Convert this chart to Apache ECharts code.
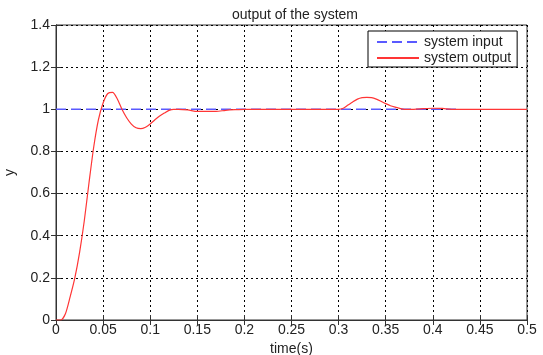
<!DOCTYPE html>
<html>
<head>
<meta charset="utf-8">
<script src="https://cdn.jsdelivr.net/npm/echarts@6/dist/echarts.min.js"></script>
<style>
  html, body { margin: 0; padding: 0; background: #fff; }
  #chart { width: 543px; height: 355px; }
</style>
</head>
<body>
<div id="chart"></div>
<script>
// 时间轴 (s)
var tOut = [0, 0.005, 0.01, 0.015, 0.02, 0.025, 0.03, 0.035, 0.04, 0.045, 0.05, 0.055, 0.06, 0.065, 0.07, 0.075, 0.08, 0.085, 0.09, 0.095, 0.1, 0.105, 0.11, 0.115, 0.12, 0.125, 0.13, 0.14, 0.15, 0.16, 0.17, 0.18, 0.19, 0.2, 0.22, 0.25, 0.28, 0.3, 0.305, 0.31, 0.315, 0.32, 0.325, 0.33, 0.335, 0.34, 0.345, 0.35, 0.355, 0.36, 0.365, 0.37, 0.38, 0.39, 0.4, 0.41, 0.42, 0.43, 0.45, 0.5];
// 系统输出
var yOut = [0, 0.0, 0.03, 0.11, 0.2, 0.32, 0.47, 0.65, 0.82, 0.95, 1.03, 1.075, 1.08, 1.05, 1.0, 0.96, 0.93, 0.912, 0.908, 0.915, 0.93, 0.95, 0.968, 0.982, 0.995, 1.0, 1.0, 0.997, 0.99, 0.99, 0.99, 0.995, 0.998, 1.0, 1.0, 1.0, 1.0, 1.0, 1.005, 1.02, 1.035, 1.048, 1.055, 1.057, 1.055, 1.048, 1.038, 1.027, 1.017, 1.01, 1.004, 1.0, 1.0, 1.003, 1.005, 1.004, 1.0, 1.0, 1.0, 1.0];
// 系统输入（阶跃）
var tIn = [0, 0.43];
var yIn = [1, 1];

var font = "Liberation Sans, Arial, sans-serif";
var txt = "#222";

function pairs(xs, ys) {
  return xs.map(function (x, i) { return [x, ys[i]]; });
}

var gridLine = { show: true, lineStyle: { color: "#000", type: [2, 3], width: 1 } };

var option = {
  backgroundColor: "#fff",
  animation: false,
  title: {
    text: "output of the system",
    left: 290,
    top: 3,
    textAlign: "center",
    textStyle: { color: txt, fontSize: 14, fontWeight: "normal", fontFamily: font }
  },
  grid: {
    left: 56, right: 16, top: 25, bottom: 35,
    outerBoundsMode: "none",
    show: true, borderColor: "#333", borderWidth: 1
  },
  legend: {
    orient: "vertical",
    left: 368,
    top: 31,
    padding: [4, 6, 2, 8],
    itemGap: 2,
    itemWidth: 42,
    itemHeight: 14,
    backgroundColor: "#fff",
    borderColor: "#000",
    borderWidth: 1,
    itemStyle: { opacity: 0 },
    textStyle: { color: txt, fontSize: 14, fontFamily: font },
    data: ["system input", "system output"]
  },
  xAxis: [
    {
      type: "value",
      min: 0,
      max: 0.5,
      interval: 0.05,
      name: "time(s)",
      nameLocation: "middle",
      nameGap: 17,
      nameTextStyle: { color: txt, fontSize: 14, fontFamily: font },
      axisLine: { show: true, onZero: false, lineStyle: { color: "#333" } },
      axisTick: { show: true, inside: true, length: 5, lineStyle: { color: "#333" } },
      axisLabel: {
        color: txt, fontSize: 14, fontFamily: font, margin: 3,
        formatter: function (v) { return String(+v.toFixed(2)); }
      },
      splitLine: gridLine
    },
    {
      type: "value",
      position: "top",
      min: 0,
      max: 0.5,
      interval: 0.05,
      axisLine: { show: true, lineStyle: { color: "#333" } },
      axisTick: { show: true, inside: true, length: 5, lineStyle: { color: "#333" } },
      axisLabel: { show: false },
      splitLine: { show: false }
    }
  ],
  yAxis: [
    {
      type: "value",
      min: 0,
      max: 1.4,
      interval: 0.2,
      name: "y",
      nameLocation: "middle",
      nameGap: 39,
      nameRotate: 90,
      nameTextStyle: { color: txt, fontSize: 14, fontFamily: font },
      axisLine: { show: true, onZero: false, lineStyle: { color: "#333" } },
      axisTick: { show: true, inside: true, length: 5, lineStyle: { color: "#333" } },
      axisLabel: {
        color: txt, fontSize: 14, fontFamily: font, margin: 6,
        formatter: function (v) { return String(+v.toFixed(1)); }
      },
      splitLine: gridLine
    },
    {
      type: "value",
      position: "right",
      min: 0,
      max: 1.4,
      interval: 0.2,
      axisLine: { show: true, lineStyle: { color: "#333" } },
      axisTick: { show: true, inside: true, length: 5, lineStyle: { color: "#333" } },
      axisLabel: { show: false },
      splitLine: { show: false }
    }
  ],
  series: [
    {
      name: "system input",
      type: "line",
      symbol: "none",
      data: pairs(tIn, yIn),
      lineStyle: { color: "#5a5aff", width: 1.5, type: [10, 5] },
      itemStyle: { color: "#5a5aff" },
      z: 3
    },
    {
      name: "system output",
      type: "line",
      symbol: "none",
      smooth: 0.25,
      data: pairs(tOut, yOut),
      lineStyle: { color: "#ff3535", width: 1.2 },
      itemStyle: { color: "#ff3535" },
      z: 4
    }
  ]
};

var chartObj = echarts.init(document.getElementById("chart"));
chartObj.setOption(option);
</script>
</body>
</html>
